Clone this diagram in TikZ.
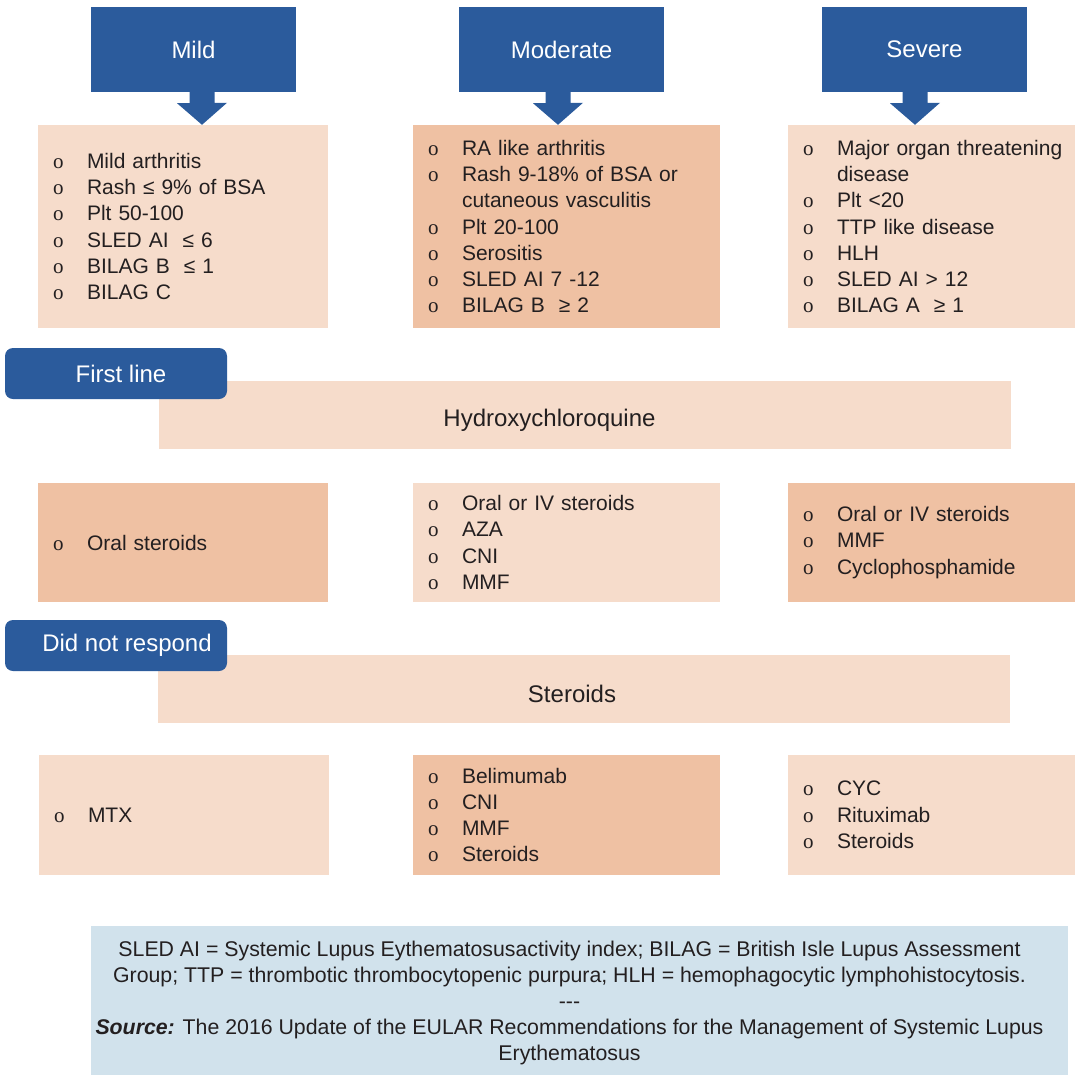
\documentclass[tikz,border=0pt]{standalone}
\usepackage{fontspec}
\setmainfont{Liberation Sans}
\newfontfamily\bulletfont{Liberation Serif}
\usepackage{xcolor}
\usepackage{tikz}
\definecolor{hdrblue}{HTML}{2B5B9C}
\definecolor{peachlight}{HTML}{F6DCCB}
\definecolor{peachdark}{HTML}{EFC1A3}
\definecolor{noteblue}{HTML}{D1E2EC}
\definecolor{inkgray}{HTML}{231F20}
\newcommand{\itm}{\makebox[34pt][l]{\bulletfont o}}
\newcommand{\cont}{\hspace*{34pt}}

\begin{document}
\begin{tikzpicture}[x=1pt, y=-1pt,
    font=\fontsize{21}{26.3}\selectfont, text=inkgray,
    header/.style={rectangle, fill=hdrblue, text=white, font=\fontsize{24}{28}\selectfont,
                   minimum width=205pt, minimum height=85pt},
    tab/.style={rectangle, rounded corners=8pt, fill=hdrblue, text=white,
                font=\fontsize{24}{28}\selectfont, minimum width=222pt, minimum height=51pt},
    band/.style={rectangle, fill=peachlight, minimum width=852pt, minimum height=68pt},
    bandlabel/.style={font=\fontsize{24}{28}\selectfont, text=inkgray, yshift=-5pt},
    listbox/.style={rectangle, align=left, inner xsep=15pt, inner ysep=0pt},
    colA/.style={listbox, text width=260pt},
    colB/.style={listbox, text width=277pt},
    colC/.style={listbox, text width=257pt},
    note/.style={rectangle, fill=noteblue, minimum width=977pt, minimum height=149pt},
    notetext/.style={align=center, text=inkgray, font=\fontsize{21.3}{26}\selectfont}
  ]
    \useasboundingbox (0,0) rectangle (1075,1076);

    % severity headers
    \node[header] (mild)     at (193.5,49.5) {Mild};
    \node[header] (moderate) at (561.5,49.5) {Moderate};
    \node[header] (severe)   at (924.5,49.5) {Severe};

    % criteria
    \node[colA, fill=peachlight, minimum height=203pt] (mildlist) at (183,226.5)
      {\itm Mild arthritis\\\itm Rash ≤ 9\% of BSA\\\itm Plt 50-100\\
       \itm SLED AI\ \ ≤ 6\\\itm BILAG B\ \ ≤ 1\\\itm BILAG C};
    \node[colB, fill=peachdark, minimum height=203pt] (modlist) at (566.5,226.5)
      {\itm RA like arthritis\\\itm Rash 9-18\% of BSA or\\\cont cutaneous vasculitis\\
       \itm Plt 20-100\\\itm Serositis\\\itm SLED AI 7 -12\\\itm BILAG B\ \ ≥ 2};
    \node[colC, fill=peachlight, minimum height=203pt] (sevlist) at (931.5,226.5)
      {\itm\mbox{Major organ threatening}\\\cont disease\\\itm Plt <20\\\itm TTP like disease\\
       \itm HLH\\\itm SLED AI > 12\\\itm BILAG A\ \ ≥ 1};

    \foreach \h/\b/\o in {mild/mildlist/8.5, moderate/modlist/-3.5, severe/sevlist/-9.5} {
      \coordinate (a) at ([xshift=\o pt]\h.south);
      \fill[hdrblue] (a) ++(-12.5,0) -- ++(0,11) -- ++(-12.5,0) -- (a |- \b.north)
        -- ++(25,-22) -- ++(-12.5,0) -- ++(0,-11) -- cycle;
    }

    % first line
    \node[band, label={[xshift=-35pt, bandlabel]center:Hydroxychloroquine}] (hcq) at (584.5,415) {};
    \node[tab] (firstline) at (116,373.5) {\hspace*{10pt}First line};

    \node[colA, fill=peachdark, minimum height=119pt] (mildfirst) at (183,542.5)
      {\itm Oral steroids};
    \node[colB, fill=peachlight, minimum height=119pt] (modfirst) at (566.5,542.5)
      {\itm Oral or IV steroids\\\itm AZA\\\itm CNI\\\itm MMF};
    \node[colC, fill=peachdark, minimum height=119pt] (sevfirst) at (931.5,542.5)
      {\itm Oral or IV steroids\\\itm MMF\\\itm Cyclophosphamide};

    % no response
    \node[band, label={[xshift=-12pt, bandlabel]center:Steroids}] (ster) at (584,688.5) {};
    \node[tab] (noresp) at (116,645.5) {\hspace*{22pt}Did not respond};

    \node[colA, fill=peachlight, minimum height=120pt] (mildnext) at (184,815)
      {\itm MTX};
    \node[colB, fill=peachdark, minimum height=120pt] (modnext) at (566.5,815)
      {\itm Belimumab\\\itm CNI\\\itm MMF\\\itm Steroids};
    \node[colC, fill=peachlight, minimum height=120pt] (sevnext) at (931.5,815)
      {\itm CYC\\\itm Rituximab\\\itm Steroids};

    % abbreviations and source
    \node[note, label={[xshift=-10pt, yshift=-2pt, notetext]center:
       SLED AI = Systemic Lupus Eythematosusactivity index; BILAG = British Isle Lupus Assessment\\
       Group; TTP = thrombotic thrombocytopenic purpura; HLH = hemophagocytic lymphohistocytosis.\\
       -{}-{}-\\
       \textbf{\textit{Source:}} The 2016 Update of the EULAR Recommendations for the Management of Systemic Lupus\\
       Erythematosus}] (notes) at (579.5,1000.5) {};
\end{tikzpicture}
\end{document}
